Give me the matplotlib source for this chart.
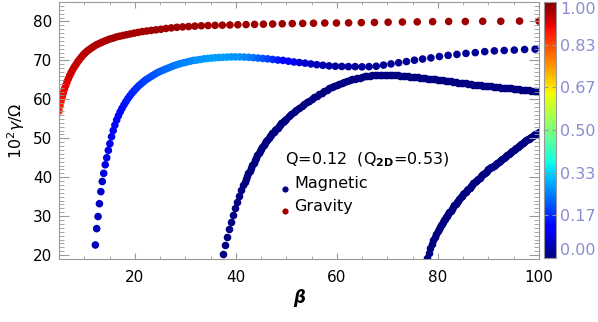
import matplotlib
matplotlib.use('Agg')
import matplotlib.pyplot as plt
from matplotlib.ticker import MultipleLocator
from matplotlib.colors import Normalize
from matplotlib.cm import ScalarMappable

# gravity branch (red)
grav_beta = [5.00, 5.20, 5.41, 5.63, 5.85, 6.09, 6.33, 6.59, 6.85, 7.13,
             7.42, 7.71, 8.02, 8.35, 8.68, 9.03, 9.40, 9.77, 10.17, 10.57,
             11.00, 11.44, 11.90, 12.38, 12.88, 13.40, 13.93, 14.49, 15.08, 15.68,
             16.31, 16.97, 17.65, 18.36, 19.10, 19.87, 20.67, 21.50, 22.36, 23.26,
             24.20, 25.17, 26.18, 27.23, 28.33, 29.47, 30.65, 31.89, 33.17, 34.50,
             35.89, 37.33, 38.83, 40.39, 42.02, 43.71, 45.46, 47.29, 49.19, 51.17,
             53.23, 55.37, 57.60, 59.91, 62.32, 64.83, 67.43, 70.14, 72.96, 75.90,
             78.95, 82.12, 85.42, 88.86, 92.43, 96.15, 100.0]
grav_gamma = [57.0, 58.4, 59.6, 60.7, 61.7, 62.7, 63.6, 64.5, 65.3, 66.1,
              66.9, 67.6, 68.3, 68.9, 69.6, 70.2, 70.8, 71.4, 71.9, 72.4,
              72.8, 73.2, 73.6, 74.0, 74.3, 74.6, 74.9, 75.2, 75.5, 75.7,
              76.0, 76.2, 76.4, 76.6, 76.8, 77.0, 77.2, 77.4, 77.55, 77.7,
              77.85, 78.0, 78.2, 78.35, 78.5, 78.6, 78.7, 78.8, 78.9, 78.95,
              79.0, 79.05, 79.1, 79.15, 79.2, 79.25, 79.3, 79.35, 79.4, 79.45,
              79.5, 79.55, 79.6, 79.6, 79.65, 79.7, 79.75, 79.8, 79.85, 79.9,
              79.95, 80.0, 80.0, 80.05, 80.05, 80.1, 80.1]
grav_frac = [0.87, 0.88, 0.89, 0.895, 0.90, 0.905, 0.91, 0.915, 0.92, 0.925,
             0.93, 0.93, 0.935, 0.935, 0.94, 0.94, 0.945, 0.945, 0.95, 0.95,
             0.95, 0.955, 0.955, 0.955, 0.96, 0.96, 0.96, 0.96, 0.965, 0.965,
             0.965, 0.965, 0.965, 0.965, 0.965, 0.965, 0.965, 0.965, 0.965, 0.965,
             0.97, 0.97, 0.97, 0.97, 0.97, 0.97, 0.97, 0.97, 0.97, 0.97,
             0.97, 0.97, 0.97, 0.97, 0.97, 0.97, 0.97, 0.97, 0.97, 0.97,
             0.97, 0.97, 0.97, 0.97, 0.97, 0.97, 0.97, 0.97, 0.97, 0.97,
             0.97, 0.97, 0.97, 0.97, 0.97, 0.97, 0.97]

# upper magnetic branch (blue, mixed)
mag1_beta = [12.20, 12.46, 12.73, 13.00, 13.28, 13.56, 13.85, 14.15, 14.45, 14.76,
             15.07, 15.40, 15.73, 16.06, 16.41, 16.76, 17.12, 17.48, 17.86, 18.24,
             18.63, 19.03, 19.44, 19.85, 20.28, 20.71, 21.16, 21.61, 22.07, 22.54,
             23.03, 23.52, 24.02, 24.54, 25.06, 25.60, 26.15, 26.71, 27.28, 27.86,
             28.46, 29.07, 29.69, 30.32, 30.97, 31.64, 32.31, 33.00, 33.71, 34.43,
             35.17, 35.92, 36.69, 37.47, 38.27, 39.09, 39.93, 40.78, 41.66, 42.55,
             43.46, 44.39, 45.34, 46.31, 47.30, 48.31, 49.34, 50.40, 51.48, 52.58,
             53.70, 54.85, 56.02, 57.22, 58.45, 59.70, 60.97, 62.28, 63.61, 64.97,
             66.36, 67.78, 69.23, 70.71, 72.22, 73.77, 75.35, 76.96, 78.61, 80.29,
             82.01, 83.76, 85.55, 87.39, 89.26, 91.17, 93.12, 95.11, 97.15, 99.23]
mag1_gamma = [22.6, 26.8, 29.9, 33.2, 36.3, 38.9, 41.0, 43.2, 45.0, 46.9,
              48.6, 50.4, 52.0, 53.4, 54.7, 55.8, 56.8, 57.7, 58.6, 59.4,
              60.2, 60.9, 61.6, 62.2, 62.8, 63.4, 63.9, 64.4, 64.9, 65.3,
              65.7, 66.1, 66.5, 66.9, 67.2, 67.5, 67.8, 68.1, 68.4, 68.7,
              68.95, 69.2, 69.4, 69.6, 69.8, 70.0, 70.1, 70.25, 70.4, 70.5,
              70.6, 70.7, 70.75, 70.8, 70.85, 70.9, 70.9, 70.9, 70.85, 70.8,
              70.7, 70.6, 70.5, 70.4, 70.25, 70.1, 70.0, 69.8, 69.6, 69.45,
              69.3, 69.1, 68.9, 68.75, 68.6, 68.5, 68.45, 68.4, 68.4, 68.35,
              68.4, 68.5, 68.8, 69.1, 69.4, 69.7, 70.05, 70.35, 70.65, 71.0,
              71.3, 71.55, 71.8, 72.0, 72.25, 72.45, 72.55, 72.65, 72.8, 72.9]
mag1_frac = [0.05, 0.05, 0.06, 0.06, 0.07, 0.07, 0.08, 0.08, 0.09, 0.09,
             0.10, 0.10, 0.11, 0.11, 0.12, 0.12, 0.13, 0.13, 0.14, 0.14,
             0.15, 0.15, 0.16, 0.16, 0.17, 0.17, 0.18, 0.18, 0.19, 0.19,
             0.20, 0.20, 0.21, 0.21, 0.22, 0.22, 0.23, 0.23, 0.24, 0.24,
             0.25, 0.25, 0.25, 0.26, 0.26, 0.26, 0.27, 0.27, 0.27, 0.28,
             0.28, 0.28, 0.28, 0.28, 0.28, 0.27, 0.27, 0.27, 0.26, 0.25,
             0.24, 0.22, 0.21, 0.19, 0.17, 0.15, 0.13, 0.11, 0.10, 0.08,
             0.07, 0.06, 0.05, 0.04, 0.04, 0.03, 0.03, 0.03, 0.03, 0.03,
             0.02, 0.02, 0.02, 0.02, 0.02, 0.02, 0.02, 0.02, 0.02, 0.02,
             0.02, 0.02, 0.02, 0.02, 0.02, 0.02, 0.02, 0.02, 0.02, 0.02]

# middle magnetic branch (navy)
mag2_beta = [37.5, 37.9, 38.3, 38.7, 39.1, 39.5, 39.9, 40.3, 40.7, 41.1,
             41.5, 41.75, 42.0, 42.25, 42.5, 42.75, 43.0, 43.25, 43.5, 43.75,
             44.0, 44.25, 44.5, 44.75, 45.0, 45.25, 45.5, 45.75, 46.0, 46.25,
             46.5, 46.75, 47.0, 47.25, 47.5, 47.75, 48.0, 48.25, 48.5, 48.75,
             49.0, 49.25, 49.5, 49.75, 50.0, 50.5, 51.0, 51.5,
             52.0, 52.5, 53.0, 53.5, 54.0, 54.5, 55.0, 55.5, 56.0, 56.5,
             57.0, 57.5, 58.0, 58.5, 59.0, 59.5, 60.0, 60.5, 61.0, 61.5,
             62.0, 62.5, 63.0, 63.5, 64.0, 64.5, 65.0, 65.5, 66.0, 66.5,
             67.0, 67.5, 68.0, 68.5, 69.0, 69.5, 70.0, 70.5, 71.0, 71.5,
             72.0, 72.5, 73.0, 73.5, 74.0, 74.5, 75.0, 75.5, 76.0, 76.5,
             77.0, 77.5, 78.0, 78.5, 79.0, 79.5, 80.0, 80.5, 81.0, 81.5,
             82.0, 82.5, 83.0, 83.5, 84.0, 84.5, 85.0, 85.5, 86.0, 86.5,
             87.0, 87.5, 88.0, 88.5, 89.0, 89.5, 90.0, 90.5, 91.0, 91.5,
             92.0, 92.5, 93.0, 93.5, 94.0, 94.5, 95.0, 95.5, 96.0, 96.5,
             97.0, 97.5, 98.0, 98.5, 99.0, 99.5, 100.0]
mag2_gamma = [20.4, 22.6, 24.7, 26.7, 28.6, 30.4, 32.1, 33.7, 35.2, 36.6,
              37.9, 38.7, 39.5, 40.25, 41.0, 41.7, 42.4, 43.05, 43.7, 44.35,
              45.0, 45.6, 46.2, 46.75, 47.3, 47.8, 48.3, 48.75, 49.2, 49.65,
              50.1, 50.5, 50.9, 51.3, 51.7, 52.05, 52.4, 52.75, 53.1, 53.45,
              53.8, 54.1, 54.4, 54.7, 55.0, 55.6, 56.2, 56.8,
              57.3, 57.8, 58.3, 58.8, 59.3, 59.7, 60.1, 60.5, 60.9, 61.3,
              61.7, 62.1, 62.5, 62.85, 63.2, 63.5, 63.75, 64.0, 64.25, 64.5,
              64.7, 64.9, 65.1, 65.3, 65.45, 65.6, 65.75, 65.9, 66.0, 66.1,
              66.15, 66.2, 66.25, 66.3, 66.3, 66.3, 66.3, 66.3, 66.25, 66.2,
              66.15, 66.1, 66.05, 66.0, 65.9, 65.85, 65.8, 65.7, 65.65, 65.55,
              65.5, 65.4, 65.35, 65.25, 65.2, 65.1, 65.0, 64.95, 64.85, 64.75,
              64.65, 64.6, 64.5, 64.4, 64.3, 64.25, 64.15, 64.1, 64.0, 63.9,
              63.8, 63.75, 63.65, 63.6, 63.5, 63.45, 63.35, 63.3, 63.2, 63.15,
              63.1, 63.0, 62.95, 62.9, 62.85, 62.8, 62.7, 62.65, 62.6, 62.5,
              62.45, 62.4, 62.35, 62.25, 62.2, 62.15, 62.1]

# lower magnetic branch (navy)
mag3_beta = [77.9, 78.2, 78.5, 78.8, 79.1, 79.4, 79.7, 80.0, 80.2, 80.4,
             80.6, 80.8, 81.0, 81.2, 81.4, 81.6, 81.8, 82.0, 82.25, 82.5,
             82.75, 83.0, 83.25, 83.5, 83.75, 84.0, 84.25, 84.5, 84.75, 85.0,
             85.25, 85.5, 85.75, 86.0, 86.25, 86.5, 86.75, 87.0, 87.25, 87.5,
             87.75, 88.0, 88.25, 88.5, 88.75, 89.0, 89.25, 89.5, 89.75, 90.0,
             90.25, 90.5, 90.75, 91.0, 91.25, 91.5, 91.75, 92.0, 92.25, 92.5,
             92.75, 93.0, 93.25, 93.5, 93.75, 94.0, 94.25, 94.5, 94.75, 95.0,
             95.25, 95.5, 95.75, 96.0, 96.25, 96.5, 96.75, 97.0, 97.25, 97.5,
             97.75, 98.0, 98.25, 98.5, 98.75, 99.0, 99.25, 99.5, 99.75, 100.0]
mag3_gamma = [19.2, 20.5, 21.7, 22.8, 23.8, 24.7, 25.5, 26.3, 26.75, 27.2,
              27.65, 28.1, 28.5, 28.9, 29.3, 29.7, 30.1, 30.5, 30.95, 31.4,
              31.85, 32.3, 32.75, 33.2, 33.6, 34.0, 34.4, 34.8, 35.2, 35.6,
              35.95, 36.3, 36.65, 37.0, 37.35, 37.7, 38.05, 38.4, 38.7, 39.0,
              39.3, 39.6, 39.9, 40.2, 40.5, 40.8, 41.1, 41.4, 41.7, 42.0,
              42.25, 42.5, 42.75, 43.0, 43.25, 43.5, 43.75, 44.0, 44.25, 44.5,
              44.75, 45.0, 45.25, 45.5, 45.75, 46.0, 46.25, 46.5, 46.75, 47.0,
              47.25, 47.5, 47.75, 48.0, 48.25, 48.5, 48.75, 49.0, 49.2, 49.45,
              49.7, 49.9, 50.1, 50.35, 50.6, 50.8, 51.0, 51.2, 51.4, 51.6]

cbar_ticks = [0.0, 1/6, 2/6, 3/6, 4/6, 5/6, 1.0]
cbar_labels = ['0.00', '0.17', '0.33', '0.50', '0.67', '0.83', '1.00']

plt.rcParams['font.family'] = ['DejaVu Sans']
plt.rcParams['font.size'] = 11

cmap = plt.get_cmap('jet')
norm = Normalize(0, 1)
grey = '#999999'

fig = plt.figure(figsize=(5.98, 3.22), dpi=100)
ax = fig.add_axes([59/598, 63/322, 480/598, 257/322])

ms = 30
ax.scatter(grav_beta, grav_gamma, c=grav_frac, cmap=cmap, norm=norm, s=ms, lw=0)
ax.scatter(mag1_beta, mag1_gamma, c=mag1_frac, cmap=cmap, norm=norm, s=ms, lw=0)
ax.scatter(mag2_beta, mag2_gamma, color=cmap(0.0), s=ms, lw=0)
ax.scatter(mag3_beta, mag3_gamma, color=cmap(0.0), s=ms, lw=0)

ax.set_xlim(5, 100)
ax.set_ylim(19, 85)
ax.xaxis.set_major_locator(MultipleLocator(20))
ax.xaxis.set_minor_locator(MultipleLocator(5))
ax.yaxis.set_major_locator(MultipleLocator(10))
ax.yaxis.set_minor_locator(MultipleLocator(1))
ax.tick_params(which='both', direction='in', top=True, right=True, color=grey)
ax.tick_params(axis='x', which='major', length=4, pad=8)
ax.tick_params(axis='x', which='minor', length=2.5)
ax.tick_params(axis='y', which='major', length=7, pad=5)
ax.tick_params(axis='y', which='minor', length=3.5)
for sp in ax.spines.values():
    sp.set_color(grey)

ax.set_xlabel('β', fontweight='bold', fontstyle='italic', fontsize=12, labelpad=3)
ax.set_ylabel(r'$10^2\gamma/\Omega$', fontsize=11.5, labelpad=4)

# legend-like annotations
ax.text(0.471, 0.385, r'Q=0.12  (Q$_{\mathbf{2D}}$=0.53)', transform=ax.transAxes,
        va='center', ha='left', fontsize=11.5)
ax.scatter([0.471], [0.272], transform=ax.transAxes, color=cmap(0.0), s=20, lw=0)
ax.scatter([0.471], [0.187], transform=ax.transAxes, color=cmap(0.97), s=20, lw=0)
ax.text(0.49, 0.295, 'Magnetic', transform=ax.transAxes, va='center', ha='left',
        fontsize=11.5)
ax.text(0.49, 0.205, 'Gravity', transform=ax.transAxes, va='center', ha='left',
        fontsize=11.5)

# colour bar
cax = fig.add_axes([544/598, 64/322, 12/598, 256/322])
sm = ScalarMappable(norm=norm, cmap=cmap)
cb = fig.colorbar(sm, cax=cax)
cb.outline.set_edgecolor(grey)
cb.set_ticks(cbar_ticks)
cb.set_ticklabels(cbar_labels)
cax.tick_params(direction='in', color=grey, labelcolor='#8c8cd2', length=3,
                left=True, right=True, pad=3, labelsize=11.5)
tl = cax.get_yticklabels()
tl[0].set_va('bottom')
tl[-1].set_va('top')

fig.savefig('out.png', dpi=100)
